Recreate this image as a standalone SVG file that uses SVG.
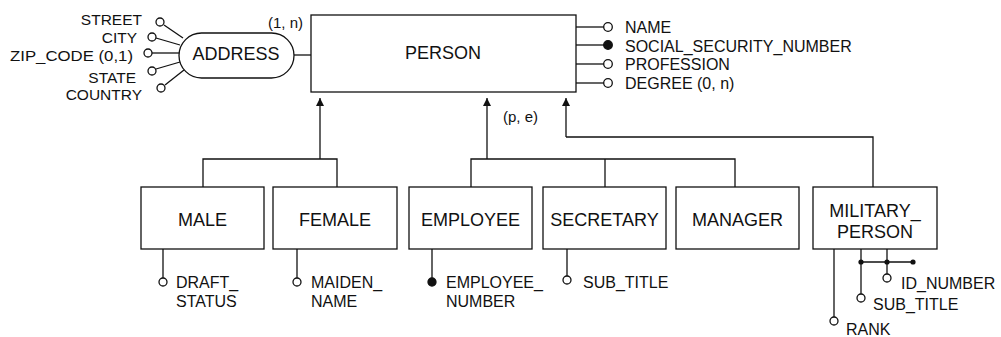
<svg xmlns="http://www.w3.org/2000/svg" width="1001" height="337" viewBox="0 0 1001 337">
<defs>
<style>
.box{fill:#fff;stroke:#111;stroke-width:1.3}
.ln{fill:none;stroke:#111;stroke-width:1.3}
.oc{fill:#fff;stroke:#111;stroke-width:1.3}
.fc{fill:#111;stroke:#111;stroke-width:1.3}
.dot{fill:#111}
.ent{font-family:"Liberation Sans",Arial,sans-serif;font-size:18px;fill:#111;text-anchor:middle}
.att{font-family:"Liberation Sans",Arial,sans-serif;font-size:16px;fill:#111}
.aa{font-family:"Liberation Sans",Arial,sans-serif;font-size:15.5px;fill:#111;text-anchor:end}
</style>
<marker id="arr" viewBox="0 0 10 10" refX="10" refY="5" markerWidth="14" markerHeight="8" markerUnits="userSpaceOnUse" orient="auto">
<path d="M0,0 L10,5 L0,10 z" fill="#111"/>
</marker>
</defs>
<rect width="1001" height="337" fill="#fff"/>

<g id="connectors">
<!-- ADDRESS to PERSON -->
<line class="ln" x1="294" y1="55" x2="311" y2="55"/>
<!-- address attribute lines -->
<line class="ln" x1="164" y1="25" x2="183" y2="38"/>
<line class="ln" x1="156" y1="38" x2="180" y2="45"/>
<line class="ln" x1="152" y1="53" x2="180" y2="53"/>
<line class="ln" x1="156" y1="69" x2="180" y2="62"/>
<line class="ln" x1="165" y1="85" x2="184" y2="70"/>
<!-- person attribute lines -->
<line class="ln" x1="576" y1="27" x2="604" y2="27"/>
<line class="ln" x1="576" y1="45" x2="604" y2="45"/>
<line class="ln" x1="576" y1="64" x2="604" y2="64"/>
<line class="ln" x1="576" y1="83" x2="604" y2="83"/>
<!-- specialization: MALE/FEMALE -->
<polyline class="ln" points="203,187 203,159 337,159 337,187"/>
<line class="ln" x1="320" y1="159" x2="320" y2="98" marker-end="url(#arr)"/>
<!-- specialization: EMPLOYEE/SECRETARY/MANAGER -->
<polyline class="ln" points="471,187 471,159 735,159 735,187"/>
<line class="ln" x1="605" y1="159" x2="605" y2="187"/>
<line class="ln" x1="487" y1="159" x2="487" y2="98" marker-end="url(#arr)"/>
<!-- specialization: MILITARY_PERSON -->
<polyline class="ln" points="873,187 873,137 566,137"/>
<line class="ln" x1="566" y1="137" x2="566" y2="98" marker-end="url(#arr)"/>
<!-- subclass attribute lines -->
<line class="ln" x1="163" y1="249" x2="163" y2="278"/>
<line class="ln" x1="297" y1="249" x2="297" y2="278"/>
<line class="ln" x1="432" y1="249" x2="432" y2="278"/>
<line class="ln" x1="567" y1="249" x2="567" y2="276"/>
<line class="ln" x1="834" y1="249" x2="834" y2="317"/>
<line class="ln" x1="861" y1="249" x2="861" y2="294"/>
<line class="ln" x1="887" y1="249" x2="887" y2="274"/>
<line class="ln" x1="861" y1="262" x2="913" y2="262"/>
<circle class="dot" cx="861" cy="262" r="2.6"/>
<circle class="dot" cx="887" cy="262" r="2.6"/>
<circle class="dot" cx="913" cy="262" r="2.6"/>
<text class="att" x="268" y="28" style="font-size:15px">(1, n)</text>
<text class="att" x="503" y="122" style="font-size:15px">(p, e)</text>
</g>

<g id="address">
<rect class="box" x="179" y="33" width="115" height="45" rx="22.5"/>
<text class="ent" x="236" y="60">ADDRESS</text>
</g>
<g id="address-attrs">
<circle class="oc" cx="160" cy="22" r="4"/>
<circle class="oc" cx="152" cy="37" r="4"/>
<circle class="oc" cx="148" cy="53" r="4"/>
<circle class="oc" cx="152" cy="71" r="4"/>
<circle class="oc" cx="161" cy="88" r="4"/>
<text class="aa" x="142" y="25">STREET</text>
<text class="aa" x="137" y="43">CITY</text>
<text class="aa" x="133" y="61" textLength="123" lengthAdjust="spacingAndGlyphs">ZIP_CODE (0,1)</text>
<text class="aa" x="136" y="83">STATE</text>
<text class="aa" x="142" y="100">COUNTRY</text>
</g>

<g id="person">
<rect class="box" x="311" y="15" width="265" height="77"/>
<text class="ent" x="443" y="59">PERSON</text>
</g>
<g id="person-attrs">
<circle class="oc" cx="608" cy="27" r="4.3"/>
<circle class="fc" cx="608" cy="45" r="4.3"/>
<circle class="oc" cx="608" cy="64" r="4.3"/>
<circle class="oc" cx="608" cy="83" r="4.3"/>
<text class="att" x="625" y="33">NAME</text>
<text class="att" x="625" y="52">SOCIAL_SECURITY_NUMBER</text>
<text class="att" x="625" y="70">PROFESSION</text>
<text class="att" x="625" y="89">DEGREE (0, n)</text>
</g>

<g id="male">
<rect class="box" x="141" y="187" width="123" height="62"/>
<text class="ent" x="202.5" y="226">MALE</text>
<circle class="oc" cx="163" cy="282" r="4"/>
<text class="att" x="176" y="288">DRAFT_</text>
<text class="att" x="176" y="307">STATUS</text>
</g>

<g id="female">
<rect class="box" x="273" y="187" width="124" height="62"/>
<text class="ent" x="335" y="226">FEMALE</text>
<circle class="oc" cx="297" cy="282" r="4"/>
<text class="att" x="311" y="288">MAIDEN_</text>
<text class="att" x="311" y="307">NAME</text>
</g>

<g id="employee">
<rect class="box" x="409" y="187" width="123" height="62"/>
<text class="ent" x="470.5" y="226">EMPLOYEE</text>
<circle class="fc" cx="432" cy="282" r="4"/>
<text class="att" x="446" y="288">EMPLOYEE_</text>
<text class="att" x="446" y="307">NUMBER</text>
</g>

<g id="secretary">
<rect class="box" x="543" y="187" width="123" height="62"/>
<text class="ent" x="604.5" y="226">SECRETARY</text>
<circle class="oc" cx="567" cy="280" r="4"/>
<text class="att" x="583" y="288">SUB_TITLE</text>
</g>

<g id="manager">
<rect class="box" x="676" y="187" width="123" height="62"/>
<text class="ent" x="737.5" y="226">MANAGER</text>
</g>

<g id="military_person">
<rect class="box" x="813" y="187" width="124" height="62"/>
<text class="ent" x="875" y="217">MILITARY_</text>
<text class="ent" x="875" y="238">PERSON</text>
<circle class="oc" cx="887" cy="278" r="4"/>
<circle class="oc" cx="861" cy="298" r="4"/>
<circle class="oc" cx="834" cy="321" r="4"/>
<text class="att" x="901" y="289">ID_NUMBER</text>
<text class="att" x="873" y="310">SUB_TITLE</text>
<text class="att" x="846" y="335">RANK</text>
</g>
</svg>
